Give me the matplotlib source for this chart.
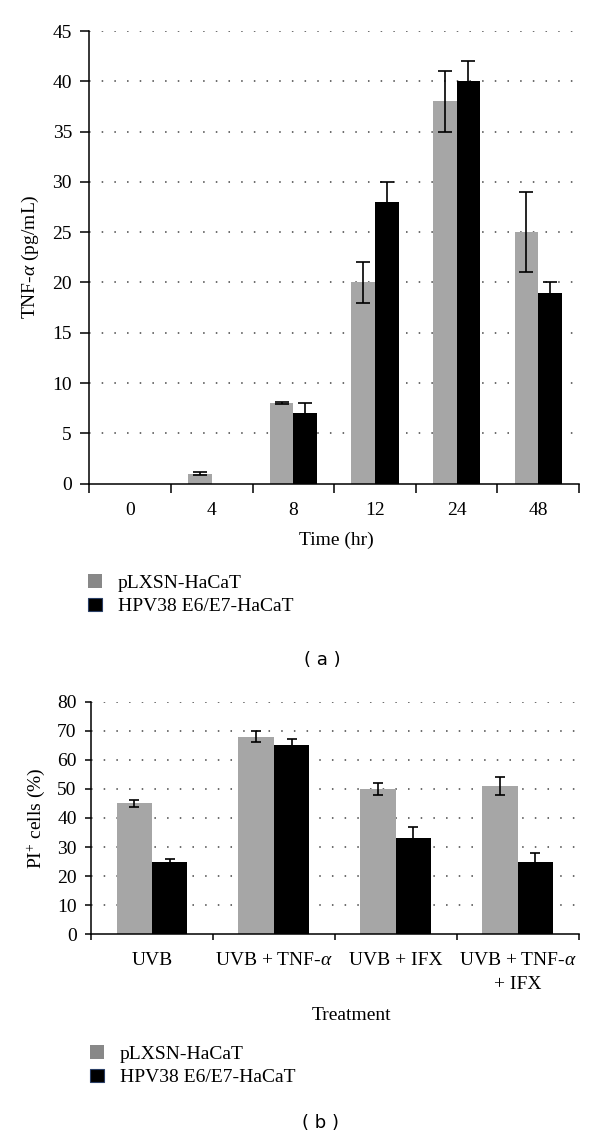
import numpy as np
import matplotlib
matplotlib.use('Agg')
import matplotlib.pyplot as plt
from matplotlib.patches import Patch

plt.rcParams['font.family'] = ['Liberation Serif', 'DejaVu Serif']
plt.rcParams['mathtext.fontset'] = 'custom'
plt.rcParams['mathtext.rm'] = 'Liberation Serif'
plt.rcParams['mathtext.it'] = 'Liberation Serif:italic'

# panel (a) data
times = ['0', '4', '8', '12', '24', '48']
tnf_plxsn = [0, 1, 8, 20, 38, 25]
tnf_plxsn_err = [0, 0.12, 0.12, 2, 3, 4]
tnf_hpv = [0, 0, 7, 28, 40, 19]
tnf_hpv_err = [0, 0, 1, 2, 2, 1]

# panel (b) data
treatments = ['UVB', 'UVB + TNF-$\\alpha$', 'UVB + IFX', 'UVB + TNF-$\\alpha$\n+ IFX']
pi_plxsn = [45, 68, 50, 51]
pi_plxsn_err = [1.2, 2, 2, 3]
pi_hpv = [25, 65, 33, 25]
pi_hpv_err = [1, 2, 4, 3]

series_names = ['pLXSN-HaCaT', 'HPV38 E6/E7-HaCaT']
grey = '#a6a6a6'
fs = 14

W, H = 600, 1143
fig = plt.figure(figsize=(W / 100, H / 100), dpi=100)


def px_box(left, top, right, bottom):
    return [left / W, 1 - bottom / H, (right - left) / W, (bottom - top) / H]


def draw_panel(ax, cats, v1, e1, v2, e2, ymax, ystep, capsize, ticklen, xpad):
    x = np.arange(len(cats))
    w = 0.29
    ax.bar(x - w / 2, v1, w, color=grey, zorder=2)
    ax.bar(x + w / 2, v2, w, color='black', zorder=2)
    for xs, vals, errs in [(x - w / 2, v1, e1), (x + w / 2, v2, e2)]:
        idx = [i for i in range(len(vals)) if errs[i] > 0]
        ax.errorbar(xs[idx], np.array(vals)[idx], yerr=np.array(errs)[idx],
                    fmt='none', ecolor='black', elinewidth=1.2,
                    capsize=capsize, capthick=1.2, zorder=3)
    ax.set_xlim(-0.5, len(cats) - 0.5)
    ax.set_ylim(0, ymax)
    ax.set_yticks(np.arange(0, ymax + 1, ystep))
    ax.set_xticks(x)
    ax.set_xticklabels(cats, fontsize=fs, linespacing=1.5)
    ax.set_xticks(np.arange(len(cats) + 1) - 0.5, minor=True)
    ax.tick_params(axis='x', which='major', length=0, pad=xpad)
    ax.tick_params(axis='x', which='minor', length=ticklen, width=1.1, direction='out')
    ax.tick_params(axis='y', length=ticklen, width=1.1, labelsize=fs, pad=6)
    for s in ['top', 'right']:
        ax.spines[s].set_visible(False)
    for s in ['left', 'bottom']:
        ax.spines[s].set_linewidth(1.1)
    ax.yaxis.grid(True, linestyle=(0, (1, 7.3)), color='#444444', linewidth=1.1)
    ax.set_axisbelow(True)
    # hide grid line at zero
    ax.get_ygridlines()[0].set_visible(False)


ax1 = fig.add_axes(px_box(89.3, 31, 579, 483.7))
draw_panel(ax1, times, tnf_plxsn, tnf_plxsn_err, tnf_hpv, tnf_hpv_err, 45, 5, 4.7, 6.5, 13)
fig.text(30 / W, 1 - 257 / H, 'TNF-$\\alpha$ (pg/mL)', rotation=90, ha='center', va='center', fontsize=fs)
fig.text(336 / W, 1 - 540 / H, 'Time (hr)', ha='center', va='center', fontsize=fs)

ax2 = fig.add_axes(px_box(91, 701.7, 578.6, 934.3))
draw_panel(ax2, treatments, pi_plxsn, pi_plxsn_err, pi_hpv, pi_hpv_err, 80, 10, 3.5, 4.3, 13)
fig.text(36 / W, 1 - 818 / H, 'PI$^{+}$ cells (%)', rotation=90, ha='center', va='center', fontsize=fs)
fig.text(351 / W, 1 - 1015 / H, 'Treatment', ha='center', va='center', fontsize=fs)

handles = [Patch(facecolor='#888888', edgecolor='none'),
           Patch(facecolor='black', edgecolor='#2a3f66', linewidth=0.8)]
for (lx, ly) in [(88, 574), (90, 1045)]:
    fig.legend(handles, series_names, loc='upper left',
               bbox_to_anchor=(lx / W, 1 - ly / H), frameon=False, fontsize=fs,
               handlelength=0.72, handleheight=0.72, handletextpad=0.8,
               labelspacing=0.3, borderpad=0, borderaxespad=0)

fig.text(322 / W, 1 - 660 / H, '( a )', ha='center', va='center', fontsize=13, family='DejaVu Sans')
fig.text(321 / W, 1 - 1123 / H, '( b )', ha='center', va='center', fontsize=13, family='DejaVu Sans')

fig.savefig('out.png', dpi=100)
